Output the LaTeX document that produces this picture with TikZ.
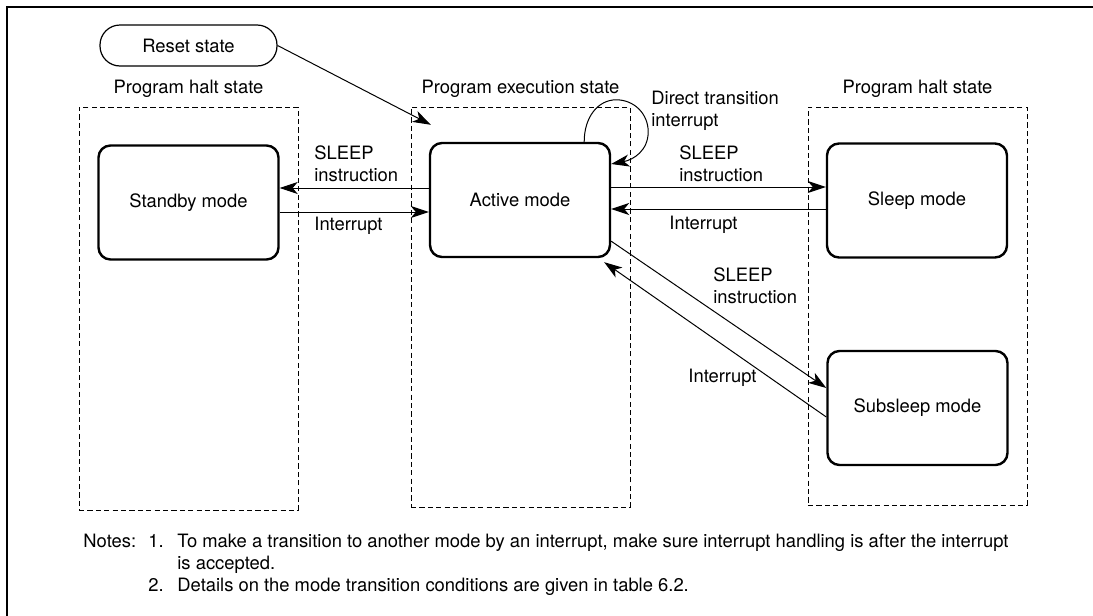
\documentclass[tikz,border=0pt]{standalone}
\usepackage{fontspec}
\setmainfont{TeX Gyre Heros}
\usetikzlibrary{arrows.meta,calc}
\begin{document}
\begin{tikzpicture}[x=0.5pt,y=-0.5pt, font=\fontsize{9.2}{11}\selectfont,
  modebox/.style={draw, line width=1.2pt, rounded corners=6pt, minimum width=90pt, minimum height=57pt, inner sep=0pt},
  groupbox/.style={draw, line width=0.5pt, dash pattern=on 2.6pt off 1.6pt, inner sep=0pt},
  conn/.style={line width=0.5pt, -{Stealth[length=9pt,width=6pt,inset=2.5pt]}},
  lbl/.style={align=left, inner sep=0pt, anchor=west},
  note/.style={anchor=base west, inner sep=0pt},
]
\useasboundingbox (0,0) rectangle (1093,616);
\draw[line width=1pt] (7,616) -- (7,7) -- (1093,7);

\node[draw, line width=0.6pt, rounded corners=10pt, minimum width=88.5pt, minimum height=20.5pt, inner sep=0pt] (reset) at (188.5,45.5) {Reset state};

\node[groupbox, minimum width=109.5pt, minimum height=201.5pt] (gl) at (188.5,308.5) {};
\node[groupbox, minimum width=109.5pt, minimum height=200pt] (gm) at (520.5,307) {};
\node[groupbox, minimum width=109.5pt, minimum height=199pt] (gr) at (917.5,306) {};
\node (tl) at (188.5,89) {Program halt state};
\node (tm) at (520.5,89) {Program execution state};
\node (tr) at (917.5,89) {Program halt state};

\node[modebox] (stb) at (188.5,202.5) {Standby mode};
\node[modebox] (act) at (520,200) {Active mode};
\node[modebox] (slp) at (917,200.5) {Sleep mode};
\node[modebox] (sub) at (917.5,408) {Subsleep mode};

% reset -> active
\coordinate (rtip) at ($(act.north west)+(2,-17)$);
\draw[conn] (reset.east) -- (rtip);

% standby <-> active
\coordinate (a1) at ($(act.west)+(0,-12)$);
\draw[conn] (a1) -- (stb.east |- a1);
\coordinate (a2) at ($(act.west)+(0,12)$);
\draw[conn] (stb.east |- a2) -- (a2);

% active <-> sleep
\coordinate (a3) at ($(act.east)+(0,-13)$);
\draw[conn] (a3) -- (slp.west |- a3);
\coordinate (a4) at ($(act.east)+(0,9)$);
\draw[conn] (slp.west |- a4) -- (a4);

% active <-> subsleep
\coordinate (a5) at ($(act.south east)+(0,-17)$);
\coordinate (s5) at ($(sub.west)+(0,-20)$);
\draw[conn] (a5) -- (s5);
\coordinate (s6) at ($(sub.west)+(0,9)$);
\coordinate (a6) at ($(act.south east)+(-7,4)$);
\draw[conn] (s6) -- (a6);

% self loop
\coordinate (l1) at ($(act.north east)+(-27,0)$);
\coordinate (l2) at ($(act.east)+(0,-36)$);
\draw[conn] (l1) .. controls ($(l1)+(0,-25)$) and ($(l1)+(14,-42)$) .. ($(l1)+(32,-42)$)
  .. controls ($(l1)+(50,-42)$) and ($(l1)+(64,-28)$) .. ($(l1)+(64,-10)$)
  .. controls ($(l1)+(64,9)$) and ($(l1)+(49,18)$) .. (l2);

% labels
\node[lbl] (t1) at (314,164) {SLEEP\\instruction};
\node[lbl] (t2) at (314,226) {Interrupt};
\node[lbl] (t3) at (679,164) {SLEEP\\instruction};
\node[lbl] (t4) at (669,225) {Interrupt};
\node[lbl] (t5) at (713,286) {SLEEP\\instruction};
\node[lbl] (t6) at (688,378) {Interrupt};
\node[lbl] (t7) at (651,111) {Direct transition\\interrupt};

% notes
\node[note] (n0) at (83,547) {Notes:};
\node[note] (n1) at (148,547) {1.};
\node[note] (n1t) at (177,547) {To make a transition to another mode by an interrupt, make sure interrupt handling is after the interrupt};
\node[note] (n1b) at (177,569) {is accepted.};
\node[note] (n2) at (148,591) {2.};
\node[note] (n2t) at (177,591) {Details on the mode transition conditions are given in table 6.2.};
\end{tikzpicture}
\end{document}
